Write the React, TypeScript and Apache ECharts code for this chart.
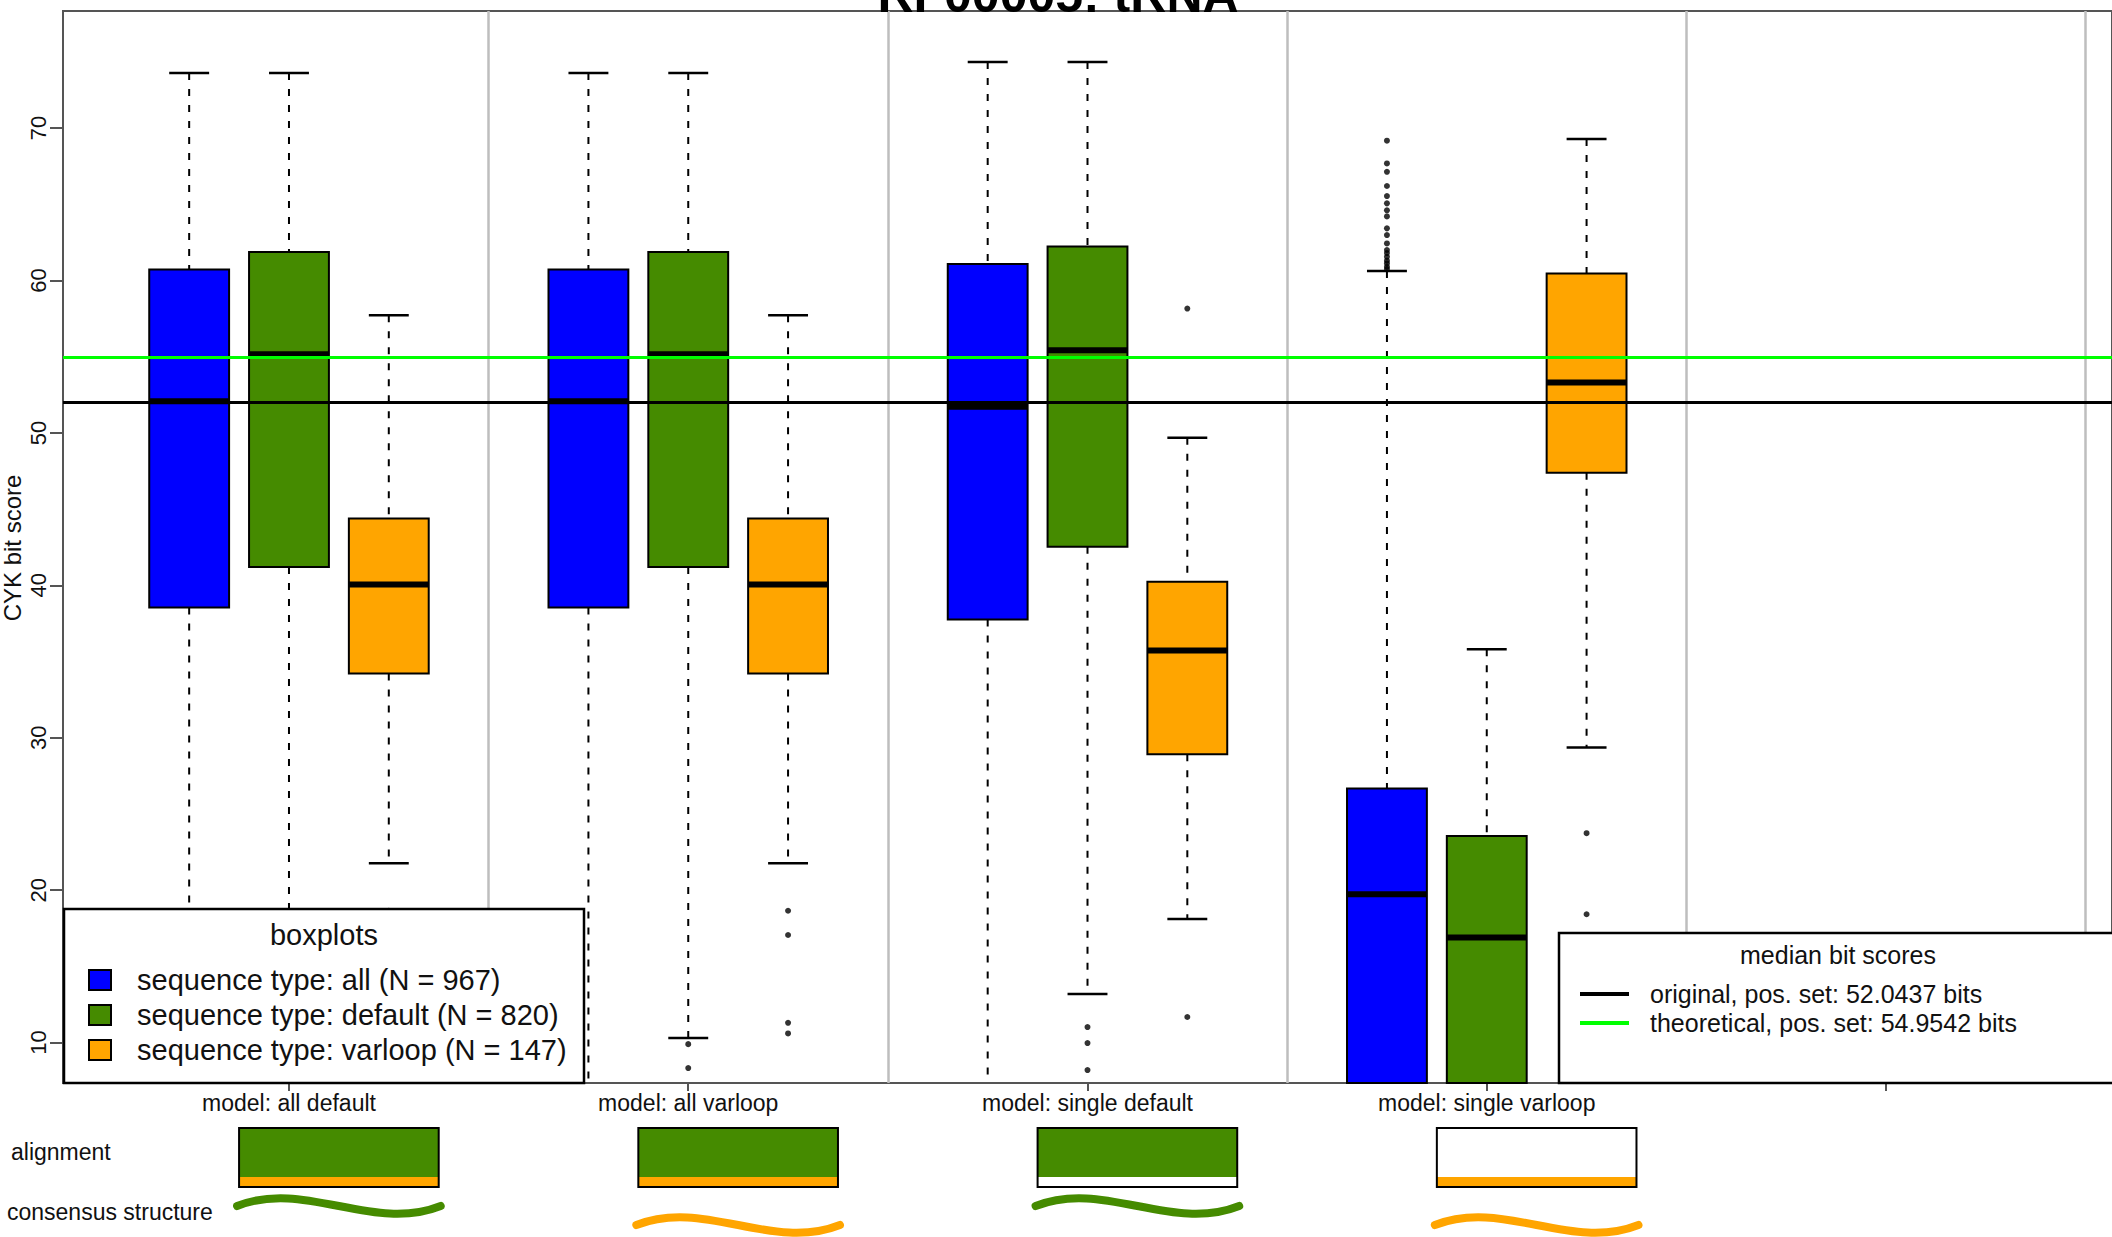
import React, { useEffect, useRef } from 'react';
import * as echarts from 'echarts';

const groupLabels = ['model: all default', 'model: all varloop', 'model: single default', 'model: single varloop'];
const groupTicks = [1, 2, 3, 4, 5];
const seqTypes = ['all', 'default', 'varloop'];
const seqCounts = [967, 820, 147];
const seqColors = ['#0000FF', '#458B00', '#FFA500'];
const boxOffsets = [-0.25, 0, 0.25];

// [min, q1, median, q3, max] for each model
const statsAll = [
  [6.0, 38.55, 52.07, 60.72, 73.62],
  [6.0, 38.55, 52.07, 60.72, 73.62],
  [6.0, 37.76, 51.71, 61.08, 74.33],
  [2.0, 5.0, 19.74, 26.67, 60.62],
];
const statsDefault = [
  [10.3, 41.2, 55.16, 61.87, 73.62],
  [10.3, 41.2, 55.16, 61.87, 73.62],
  [13.19, 42.53, 55.42, 62.23, 74.33],
  [2.0, 5.0, 16.9, 23.56, 35.81],
];
const statsVarloop = [
  [21.77, 34.22, 40.05, 44.38, 57.72],
  [21.77, 34.22, 40.05, 44.38, 57.72],
  [18.11, 28.92, 35.72, 40.23, 49.68],
  [29.36, 47.39, 53.3, 60.46, 69.29],
];
const outliersAll = [
  [],
  [],
  [],
  [69.17, 67.68, 67.13, 66.2, 65.54, 65.06, 64.6, 64.2, 63.42, 62.98, 62.43, 62.0, 61.8, 61.55, 61.3, 61.12, 60.9, 60.75],
];
const outliersDefault = [[9.9, 8.33], [9.9, 8.33], [11.02, 9.97, 8.2], []];
const outliersVarloop = [[18.65, 17.06, 11.3, 10.6], [18.65, 17.06, 11.3, 10.6], [58.16, 11.68], [23.74, 18.42]];

const medianScores = [52.0437, 54.9542];
const medianLabels = ['original, pos. set', 'theoretical, pos. set'];
const medianColors = ['#000000', '#00FF00'];
const separators = [1.5, 2.5, 3.5, 4.5, 5.5];
const yTicks = [10, 20, 30, 40, 50, 60, 70];
const alignmentTop = ['default', 'default', 'default', 'none'];
const alignmentBottom = ['varloop', 'varloop', 'none', 'varloop'];
const structureType = ['default', 'varloop', 'default', 'varloop'];

const FONT = '"Liberation Sans", Arial, Helvetica, sans-serif';

function typeColor(t: string) {
  const i = seqTypes.indexOf(t);
  return i < 0 ? '#FFFFFF' : seqColors[i];
}

export default function App() {
  const ref = useRef<HTMLDivElement>(null);

  useEffect(() => {
    if (!ref.current) return;
    const chart = echarts.init(ref.current, undefined, { renderer: 'svg' });

    const allStats = [statsAll, statsDefault, statsVarloop];
    const allOut = [outliersAll, outliersDefault, outliersVarloop];
    const boxData: number[][] = [];
    const outData: number[][] = [];
    groupLabels.forEach((_, g) => {
      seqTypes.forEach((_t, t) => {
        const xPos = g + 1 + boxOffsets[t];
        boxData.push([xPos, ...allStats[t][g], t]);
        allOut[t][g].forEach((v) => outData.push([xPos, v]));
      });
    });

    const renderBox = (params: any, api: any) => {
      const cs = params.coordSys;
      const top = cs.y;
      const bottom = cs.y + cs.height;
      const clampY = (y: number) => Math.min(bottom, Math.max(top, y));
      const x = api.value(0);
      const mn = api.value(1), q1 = api.value(2), md = api.value(3), q3 = api.value(4), mx = api.value(5);
      const color = seqColors[api.value(6)];
      const Y = (v: number) => api.coord([x, v])[1];
      const cx = api.coord([x, md])[0];
      const w = api.size([0.2, 0])[0];
      const capHalf = w / 4;
      const dash = { stroke: '#000', lineWidth: 2, lineDash: [7, 9] };
      const solid = { stroke: '#000', lineWidth: 2.5 };
      const children: any[] = [];
      const yMx = Y(mx), yQ3 = Y(q3), yQ1 = Y(q1), yMn = Y(mn), yMd = Y(md);
      if (clampY(yMx) !== clampY(yQ3)) {
        children.push({ type: 'line', shape: { x1: cx, y1: clampY(yMx), x2: cx, y2: clampY(yQ3) }, style: dash });
      }
      if (yMx >= top && yMx <= bottom) {
        children.push({ type: 'line', shape: { x1: cx - capHalf, y1: yMx, x2: cx + capHalf, y2: yMx }, style: solid });
      }
      if (clampY(yMn) !== clampY(yQ1)) {
        children.push({ type: 'line', shape: { x1: cx, y1: clampY(yQ1), x2: cx, y2: clampY(yMn) }, style: dash });
      }
      if (yMn >= top && yMn <= bottom) {
        children.push({ type: 'line', shape: { x1: cx - capHalf, y1: yMn, x2: cx + capHalf, y2: yMn }, style: solid });
      }
      const bTop = clampY(yQ3);
      const bBot = clampY(yQ1);
      children.push({
        type: 'rect',
        shape: { x: cx - w / 2, y: bTop, width: w, height: bBot - bTop },
        style: { fill: color, stroke: '#000', lineWidth: 2 },
      });
      if (yMd >= top && yMd <= bottom) {
        children.push({ type: 'line', shape: { x1: cx - w / 2, y1: yMd, x2: cx + w / 2, y2: yMd }, style: { stroke: '#000', lineWidth: 6 } });
      }
      return { type: 'group', children };
    };

    const option: any = {
      animation: false,
      textStyle: { fontFamily: FONT },
      grid: {
        left: 63,
        top: 11,
        width: 2056,
        height: 1072,
        show: true,
        borderColor: '#555',
        borderWidth: 2,
        backgroundColor: 'transparent',
      },
      xAxis: {
        type: 'value',
        min: 0.434,
        max: 5.566,
        splitLine: { show: false },
        axisLine: { show: true, lineStyle: { color: '#555', width: 2 } },
        axisTick: { show: true, customValues: groupTicks, length: 8, lineStyle: { color: '#555', width: 2 } },
        axisLabel: {
          customValues: groupTicks.slice(0, groupLabels.length),
          formatter: (v: number) => groupLabels[Math.round(v) - 1] || '',
          fontSize: 23,
          color: '#111',
          margin: 8,
          fontFamily: FONT,
        },
      },
      yAxis: {
        type: 'value',
        min: 7.35,
        max: 77.68,
        splitLine: { show: false },
        axisLine: { show: true, lineStyle: { color: '#555', width: 2 } },
        axisTick: { show: true, customValues: yTicks, length: 13, lineStyle: { color: '#555', width: 2 } },
        axisLabel: {
          customValues: yTicks,
          rotate: 90,
          fontSize: 22,
          color: '#111',
          margin: 14,
          fontFamily: FONT,
        },
      },
      series: [
        {
          type: 'scatter',
          data: [],
          z: 1,
          silent: true,
          markLine: {
            silent: true,
            symbol: ['none', 'none'],
            label: { show: false },
            animation: false,
            data: [
              ...separators.map((v) => ({ xAxis: v, lineStyle: { color: '#BEBEBE', width: 2.5, type: 'solid' } })),
              ...medianScores.map((v, i) => ({ yAxis: v, lineStyle: { color: medianColors[i], width: 3, type: 'solid' } })),
            ],
          },
        },
        {
          type: 'custom',
          z: 3,
          renderItem: renderBox,
          data: boxData,
          encode: { x: 0, y: [1, 2, 3, 4, 5] },
          silent: true,
        },
        {
          type: 'scatter',
          z: 4,
          data: outData,
          symbol: 'circle',
          symbolSize: 6,
          itemStyle: { color: '#000' },
          silent: true,
        },
      ],
    };
    chart.setOption(option);

    const px = (v: number) => chart.convertToPixel({ xAxisIndex: 0 } as any, v) as unknown as number;
    const graphics: any[] = [];
    const Z = 100;

    // title
    graphics.push({
      type: 'text',
      x: 1058,
      y: -5,
      z: Z + 5,
      style: { text: 'RF00005: tRNA', fontSize: 50, fontWeight: 'bold', fontFamily: FONT, fill: '#000', align: 'center', verticalAlign: 'middle' },
    });
    // y axis title
    graphics.push({
      type: 'text',
      x: 12,
      y: 548,
      rotation: Math.PI / 2,
      z: Z,
      style: { text: 'CYK bit score', fontSize: 24, fontFamily: FONT, fill: '#111', align: 'center', verticalAlign: 'middle' },
    });

    // left legend (boxplots)
    graphics.push({ type: 'rect', z: Z, shape: { x: 64, y: 909, width: 520, height: 174 }, style: { fill: '#fff', stroke: '#000', lineWidth: 2.5 } });
    graphics.push({ type: 'text', z: Z + 1, style: { x: 324, y: 935, text: 'boxplots', fontSize: 29, fontFamily: FONT, fill: '#111', align: 'center', verticalAlign: 'middle' } });
    seqTypes.forEach((t, i) => {
      const cy = 980 + i * 35;
      graphics.push({ type: 'rect', z: Z + 1, shape: { x: 89, y: cy - 10, width: 22, height: 20 }, style: { fill: seqColors[i], stroke: '#000', lineWidth: 2 } });
      graphics.push({
        type: 'text',
        z: Z + 1,
        style: { x: 137, y: cy, text: `sequence type: ${t} (N = ${seqCounts[i]})`, fontSize: 29, fontFamily: FONT, fill: '#111', align: 'left', verticalAlign: 'middle' },
      });
    });

    // right legend (median bit scores)
    graphics.push({ type: 'rect', z: Z, shape: { x: 1559, y: 933, width: 620, height: 150 }, style: { fill: '#fff', stroke: '#000', lineWidth: 2.5 } });
    graphics.push({ type: 'text', z: Z + 1, style: { x: 1838, y: 955, text: 'median bit scores', fontSize: 25, fontFamily: FONT, fill: '#111', align: 'center', verticalAlign: 'middle' } });
    medianScores.forEach((v, i) => {
      const cy = 994 + i * 29;
      graphics.push({ type: 'line', z: Z + 1, shape: { x1: 1580, y1: cy, x2: 1629, y2: cy }, style: { stroke: medianColors[i], lineWidth: 4 } });
      graphics.push({
        type: 'text',
        z: Z + 1,
        style: { x: 1650, y: cy, text: `${medianLabels[i]}: ${v} bits`, fontSize: 25, fontFamily: FONT, fill: '#111', align: 'left', verticalAlign: 'middle' },
      });
    });

    // bottom annotations
    graphics.push({
      type: 'text',
      z: Z,
      style: { x: 11, y: 1152, text: 'alignment', fontSize: 23, fontFamily: FONT, fill: '#111', align: 'left', verticalAlign: 'middle' },
    });
    graphics.push({
      type: 'text',
      z: Z,
      style: { x: 7, y: 1212, text: 'consensus structure', fontSize: 23, fontFamily: FONT, fill: '#111', align: 'left', verticalAlign: 'middle' },
    });
    groupLabels.forEach((_, g) => {
      const c = g + 1;
      const x0 = px(c - 0.125);
      const x1 = px(c + 0.375);
      const topY = 1128, stripY = 1177, botY = 1187;
      graphics.push({ type: 'rect', z: Z, shape: { x: x0, y: topY, width: x1 - x0, height: stripY - topY }, style: { fill: typeColor(alignmentTop[g]) } });
      graphics.push({ type: 'rect', z: Z, shape: { x: x0, y: stripY, width: x1 - x0, height: botY - stripY }, style: { fill: typeColor(alignmentBottom[g]) } });
      graphics.push({ type: 'rect', z: Z + 1, shape: { x: x0, y: topY, width: x1 - x0, height: botY - topY }, style: { fill: 'none', stroke: '#000', lineWidth: 2 } });
      const w0 = px(c - 0.13);
      const w1 = px(c + 0.38);
      const ww = w1 - w0;
      const cy = structureType[g] === 'default' ? 1206 : 1225;
      const k = 27;
      graphics.push({
        type: 'bezierCurve',
        z: Z,
        shape: { x1: w0, y1: cy, x2: w1, y2: cy, cpx1: w0 + ww / 3, cpy1: cy - k, cpx2: w0 + (2 * ww) / 3, cpy2: cy + k },
        style: { stroke: typeColor(structureType[g]), lineWidth: 8, fill: 'none', lineCap: 'round' },
      });
    });

    chart.setOption({ graphic: graphics });

    return () => {
      chart.dispose();
    };
  }, []);

  return <div ref={ref} style={{ position: 'absolute', left: 0, top: 0, width: 2112, height: 1237 }} />;
}
